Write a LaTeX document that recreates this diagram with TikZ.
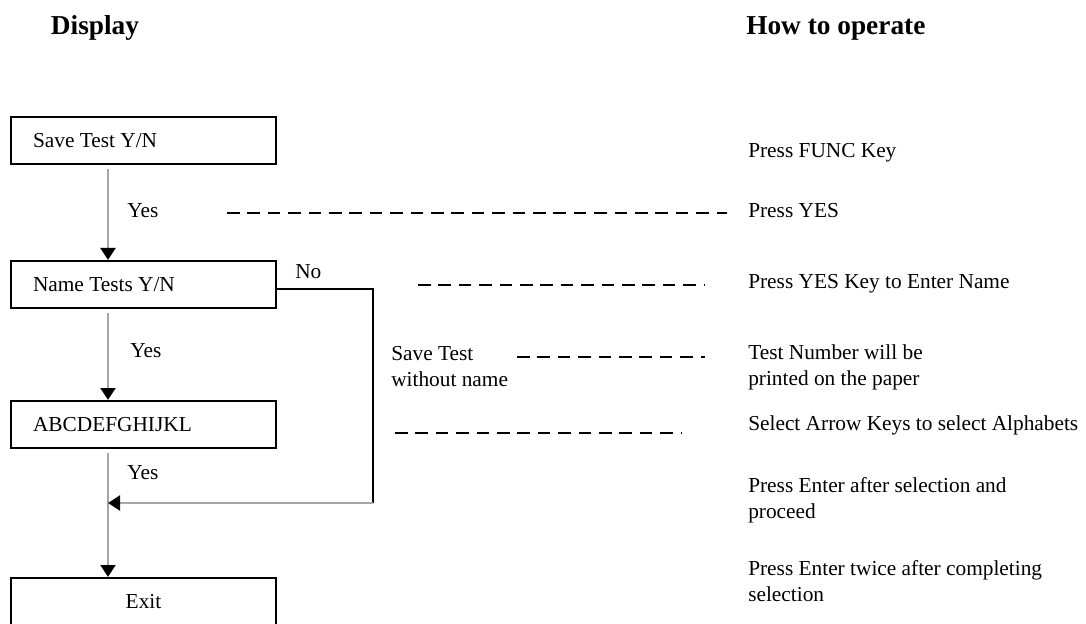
\documentclass[tikz,border=0pt]{standalone}
\usepackage{fontspec}
\setmainfont{Liberation Serif}
\usetikzlibrary{arrows.meta}
\definecolor{flowgray}{HTML}{A6A6A6}
\newcommand\bodyfont{\fontsize{16}{19.5}\selectfont}
\newcommand\headfont{\fontsize{20.5}{24}\selectfont\bfseries}
\tikzset{
  dispbox/.style={draw, line width=1.5pt, anchor=north west, minimum width=198.75pt,
    minimum height=35.25pt, text width=165.75pt, inner xsep=16.5pt, align=flush left, font=\bodyfont},
  lbl/.style={inner sep=0pt, anchor=west, align=left, font=\bodyfont},
  head/.style={inner sep=0pt, font=\headfont},
  flow/.style={draw=flowgray, line width=2.2pt, shorten <=3pt,
    -{Triangle[color=black, width=11pt, length=9pt]}},
  noline/.style={draw=black, line width=1.8pt},
  guide/.style={draw=black, line width=1.5pt, dash pattern=on 9.5pt off 5.8pt}
}
\begin{document}
\begin{tikzpicture}[x=0.75pt,y=0.75pt,yscale=-1,xscale=1]
\useasboundingbox (0,0) rectangle (1086,624);

% titles
\node[head] (disp) at (95,28) {Display};
\node[head, anchor=west] (howto) at (746,28) {How to operate};

% display boxes
\node[dispbox] (save) at (10,116) {Save Test Y/N};
\node[dispbox] (name) at (10,260) {Name Tests Y/N};
\node[dispbox] (abc) at (10,400) {ABCDEFGHIJKL};
\node[dispbox, align=center] (exit) at (10,577) {Exit};

\coordinate (spine) at (108,0);
\draw[flow] (save.south -| spine) -- (name.north -| spine);
\draw[flow] (name.south -| spine) -- (abc.north -| spine);
\draw[flow] (abc.south -| spine) -- (exit.north -| spine);

% no branch
\coordinate (turn) at (373,289);
\coordinate (back) at (373,503);
\draw[noline] (name.east |- turn) -- (turn) -- (back);
\draw[flow, shorten <=0pt] (back) -- (back -| spine);

\node[lbl] (yes1) at (127,211) {Yes};
\node[lbl] (yes2) at (130,351) {Yes};
\node[lbl] (yes3) at (127,473) {Yes};
\node[lbl] (no) at (295,272) {No};
\node[lbl] (nosave) at (391,367) {Save Test\\without name};

% how to operate
\node[lbl] (op1) at (748,153) {Press FUNC Key};
\node[lbl] (op2) at (748,211) {Press YES};
\node[lbl] (op3) at (748,284) {Press YES Key to Enter Name};
\node[lbl] (op4) at (748,367) {Test Number will be\\printed on the paper};
\node[lbl] (op5) at (748,425) {Select Arrow Keys to select Alphabets};
\node[lbl] (op6) at (748,500.5) {Press Enter after selection and\\proceed};
\node[lbl] (op7) at (748,581) {Press Enter twice after completing\\selection};

% dashed guides
\foreach \n/\xa/\xb/\yy in {a/227/727/213, b/418/705/285, c/517/705/357, d/395/682/433}{
  \coordinate (dash\n l) at (\xa,\yy);
  \coordinate (dash\n r) at (\xb,\yy);
  \draw[guide] (dash\n l) -- (dash\n r);
}
\end{tikzpicture}
\end{document}
